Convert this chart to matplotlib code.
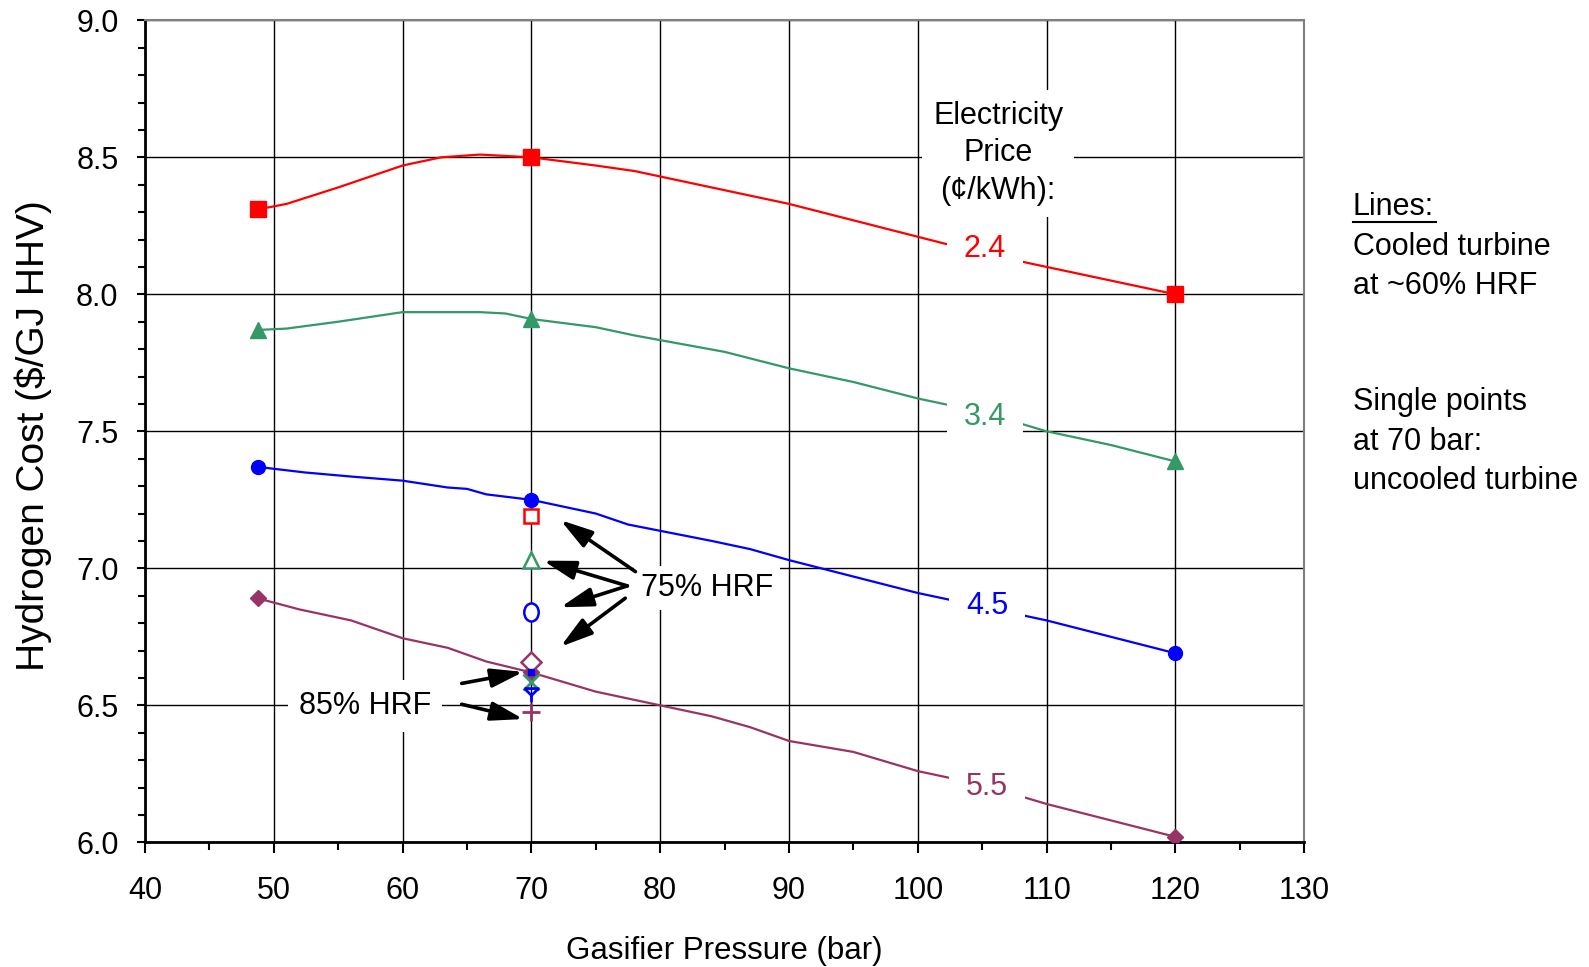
import matplotlib
matplotlib.use("Agg")
import matplotlib.pyplot as plt
from matplotlib.path import Path
from matplotlib.lines import Line2D
from matplotlib.transforms import Affine2D
from matplotlib.ticker import MultipleLocator, FormatStrFormatter

plt.rcParams['font.family'] = ['Liberation Sans', 'DejaVu Sans']

# --- cooled turbine lines (~60% HRF) ---
p_red = [48.8, 51, 55, 60, 63, 66, 70, 75, 78, 85, 90, 95, 100, 105, 110, 115, 120]
c_red = [8.31, 8.33, 8.39, 8.47, 8.50, 8.51, 8.50, 8.47, 8.45, 8.38, 8.33, 8.27, 8.21, 8.15, 8.10, 8.05, 8.00]

p_green = [48.8, 51, 55, 60, 66, 68, 70, 75, 78, 85, 90, 95, 100, 105, 110, 115, 120]
c_green = [7.87, 7.875, 7.90, 7.935, 7.935, 7.93, 7.91, 7.88, 7.85, 7.79, 7.73, 7.68, 7.62, 7.57, 7.50, 7.45, 7.39]

p_blue = [48.8, 52.4, 56, 60, 63.5, 65, 66.5, 70, 75, 77.5, 84, 87, 90, 95, 100, 105, 110, 115, 120]
c_blue = [7.37, 7.35, 7.335, 7.32, 7.295, 7.29, 7.27, 7.25, 7.20, 7.16, 7.10, 7.07, 7.03, 6.97, 6.91, 6.86, 6.81, 6.75, 6.69]

p_purple = [48.8, 52, 56, 60, 63.5, 66.5, 70, 75, 80, 84, 87, 90, 95, 100, 105, 110, 115, 120]
c_purple = [6.89, 6.85, 6.81, 6.745, 6.71, 6.66, 6.62, 6.55, 6.50, 6.46, 6.42, 6.37, 6.33, 6.26, 6.21, 6.14, 6.08, 6.02]

# marker points of the lines
p_marks = [48.8, 70, 120]
m_red = [8.31, 8.50, 8.00]
m_green = [7.87, 7.91, 7.39]
m_blue = [7.37, 7.25, 6.69]
m_purple = [6.89, 6.62, 6.02]

# --- single points at 70 bar (uncooled turbine) ---
p_single = 70
hrf75 = [7.19, 7.03, 6.84, 6.66]          # red, green, blue, purple
hrf85 = [6.62, 6.585, 6.537, 6.476]       # blue square, green, blue, purple

prices = ["2.4", "3.4", "4.5", "5.5"]
price_pos = [(105.2, 8.164), (105.2, 7.554), (105.4, 6.862), (105.4, 6.203)]

RED = '#FF0000'
GREEN = '#339966'
BLUE = '#0000FF'
PURPLE = '#993366'
colors = [RED, GREEN, BLUE, PURPLE]
FS = 22

fig = plt.figure(figsize=(15.89, 9.67), dpi=100)
ax = fig.add_axes([0.0912, 0.1289, 0.7296, 0.8501])

lw = 1.6
ax.plot(p_red, c_red, color=RED, lw=lw, zorder=3)
ax.plot(p_green, c_green, color=GREEN, lw=lw, zorder=3)
ax.plot(p_blue, c_blue, color=BLUE, lw=lw, zorder=3)
ax.plot(p_purple, c_purple, color=PURPLE, lw=lw, zorder=3)

ax.plot(p_marks, m_red, 's', color=RED, ms=11, mec=RED, zorder=4, ls='none')
ax.plot(p_marks, m_green, '^', color=GREEN, ms=12, mec=GREEN, zorder=4, ls='none')
ax.plot(p_marks, m_blue, 'o', color=BLUE, ms=10, mec=BLUE, zorder=4, ls='none')
ax.plot(p_marks, m_purple, 'D', color=PURPLE, ms=8, mec=PURPLE, zorder=4, ls='none')

# 75% HRF open markers
ellipse = Path.unit_circle().transformed(Affine2D().scale(0.8, 1.0))
ax.plot(p_single, hrf75[0], 's', mfc='white', mec=RED, mew=1.8, ms=10, zorder=5)
ax.plot(p_single, hrf75[1], '^', mfc='white', mec=GREEN, mew=1.8, ms=12, zorder=5)
ax.plot(p_single, hrf75[2], marker=ellipse, mfc='white', mec=BLUE, mew=1.8, ms=13, zorder=5)
ax.plot(p_single, hrf75[3], 'D', mfc='white', mec=PURPLE, mew=1.8, ms=10, zorder=5)

# 85% HRF markers
star = Path([(-1, 1), (1, 1), (0, 0), (-1, 1), (0, 0), (0, -1)],
            [Path.MOVETO, Path.LINETO, Path.LINETO, Path.LINETO, Path.MOVETO, Path.LINETO])
ax.plot(p_single, hrf85[0], 's', color=BLUE, ms=5, zorder=6)
ax.plot(p_single, hrf85[1], 'x', color=GREEN, mew=2.0, ms=11, zorder=5)
ax.plot(p_single, hrf85[2], marker=star, mfc='none', mec=BLUE, mew=2.0, ms=10, zorder=5, ls='none')
ax.plot(p_single, hrf85[3], '+', color=PURPLE, mew=2.0, ms=13, zorder=5)

ax.set_xlim(40, 130)
ax.set_ylim(6.0, 9.0)
ax.xaxis.set_major_locator(MultipleLocator(10))
ax.xaxis.set_minor_locator(MultipleLocator(5))
ax.yaxis.set_major_locator(MultipleLocator(0.5))
ax.yaxis.set_minor_locator(MultipleLocator(0.1))
ax.yaxis.set_major_formatter(FormatStrFormatter('%.1f'))

ax.grid(True, which='major', color='black', lw=1.0, zorder=0)
ax.set_axisbelow(True)
ax.tick_params(axis='both', which='major', labelsize=FS, direction='out', width=1.5, color='black')
ax.tick_params(axis='x', which='major', length=8, pad=16)
ax.tick_params(axis='x', which='minor', length=6, width=1.5)
ax.tick_params(axis='y', which='major', length=6, pad=13)
ax.tick_params(axis='y', which='minor', length=5, width=1.5)

for s in ['left', 'bottom']:
    ax.spines[s].set_linewidth(2)
    ax.spines[s].set_color('black')
for s in ['top', 'right']:
    ax.spines[s].set_linewidth(1.5)
    ax.spines[s].set_color('#808080')

fig.text(0.021, 0.549, "Hydrogen Cost ($/GJ HHV)", rotation=90, ha='center', va='center', fontsize=28)
fig.text(0.456, 0.017, "Gasifier Pressure (bar)", ha='center', va='center', fontsize=22.5)

ax.text(106.24, 8.515, "Electricity\nPrice\n(¢/kWh):", ha='center', va='center', fontsize=FS,
        linespacing=1.32, bbox=dict(facecolor='white', edgecolor='none', pad=8), zorder=6)
for lab, (x, y), c in zip(prices, price_pos, colors):
    ax.text(x, y, lab, ha='center', va='center', fontsize=FS, color=c,
            bbox=dict(facecolor='white', edgecolor='none', pad=12), zorder=6)

ax.text(83.66, 6.928, "75% HRF", ha='center', va='center', fontsize=FS,
        bbox=dict(facecolor='white', edgecolor='none', pad=5), zorder=6)
ax.text(57.07, 6.496, "85% HRF", ha='center', va='center', fontsize=FS,
        bbox=dict(facecolor='white', edgecolor='none', pad=8), zorder=6)

arrow = dict(arrowstyle='-|>,head_length=0.75,head_width=0.22', color='black', lw=2.6,
             mutation_scale=26, shrinkA=0, shrinkB=0)
arrows75 = [((78.08, 6.988), (72.26, 7.176)),
            ((77.45, 6.936), (70.92, 7.028)),
            ((77.45, 6.936), (72.26, 6.858)),
            ((77.29, 6.891), (72.26, 6.714))]
for start, end in arrows75:
    ax.annotate("", xy=end, xytext=start, arrowprops=arrow, zorder=7)
arrows85 = [((64.59, 6.580), (69.37, 6.622)),
            ((64.59, 6.504), (69.37, 6.450))]
for start, end in arrows85:
    ax.annotate("", xy=end, xytext=start, arrowprops=arrow, zorder=7)

# right-hand notes
tx = 0.8514
fig.text(tx, 0.786, "Lines:", fontsize=FS, va='center')
fig.add_artist(Line2D([tx, 0.9035], [0.7705, 0.7705], color='black', lw=1.5))
fig.text(tx, 0.745, "Cooled turbine", fontsize=FS, va='center')
fig.text(tx, 0.704, "at ~60% HRF", fontsize=FS, va='center')
fig.text(tx, 0.584, "Single points", fontsize=FS, va='center')
fig.text(tx, 0.543, "at 70 bar:", fontsize=FS, va='center')
fig.text(tx, 0.503, "uncooled turbine", fontsize=FS, va='center')

fig.savefig("out.png", dpi=100)
